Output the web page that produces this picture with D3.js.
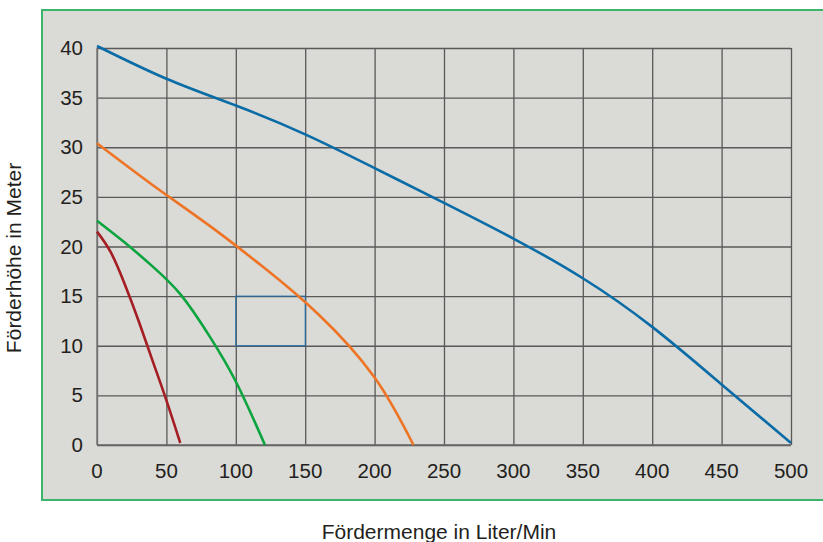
<!DOCTYPE html>
<html>
<head>
<meta charset="utf-8">
<script src="https://cdn.jsdelivr.net/npm/d3@7"></script>
<style>
  body { margin: 0; background: #fff; }
  svg { display: block; font-family: "Liberation Sans", Arial, sans-serif; }
</style>
</head>
<body>
<div id="chart"></div>
<script>
// pump curves: flow (l/min) vs head (m)
var xTicks = [0, 50, 100, 150, 200, 250, 300, 350, 400, 450, 500];
var yTicks = [0, 5, 10, 15, 20, 25, 30, 35, 40];

var blueFlow = [0, 50, 100, 150, 200, 250, 300, 350, 400, 450, 500];
var blueHead = [40.2, 36.9, 34.2, 31.3, 27.9, 24.4, 20.8, 16.8, 11.9, 6.1, 0.2];

var orangeFlow = [0, 40, 80, 120, 160, 200, 228];
var orangeHead = [30.4, 26.2, 22.2, 17.9, 13.1, 6.8, 0];

var greenFlow = [0, 20, 40, 60, 80, 100, 121];
var greenHead = [22.6, 20.4, 18.0, 15.2, 11.2, 6.4, 0];

var redFlow = [0, 10, 20, 30, 40, 50, 60];
var redHead = [21.5, 19.4, 16.2, 12.5, 8.5, 4.5, 0.2];

// highlighted box
var boxFlow = [100, 150];
var boxHead = [10, 15];

var svgWidth = 823;
var svgHeight = 542;

var margin = { top: 48, right: 32, bottom: 97, left: 97 };
var width = svgWidth - margin.left - margin.right;   // 694
var height = svgHeight - margin.top - margin.bottom; // 397

var svg = d3.select("#chart")
  .append("svg")
  .attr("width", svgWidth)
  .attr("height", svgHeight);

// grey panel with green border
svg.append("rect")
  .attr("x", 42)
  .attr("y", 10)
  .attr("width", 790)
  .attr("height", 490)
  .attr("fill", "#dadad6")
  .attr("stroke", "#3db36b")
  .attr("stroke-width", 2);

var chartGroup = svg.append("g")
  .attr("transform", `translate(${margin.left}, ${margin.top})`);

var x = d3.scaleLinear().domain([0, 500]).range([0, width]);
var y = d3.scaleLinear().domain([0, 40]).range([height, 0]);

// grid
chartGroup.append("g")
  .call(d3.axisBottom(x).tickValues(xTicks).tickSize(-height).tickFormat(""))
  .attr("transform", `translate(0, ${height})`)
  .call(g => g.select(".domain").remove())
  .selectAll("line")
  .attr("stroke", "#5a5858")
  .attr("stroke-width", 1.3);

chartGroup.append("g")
  .call(d3.axisLeft(y).tickValues(yTicks).tickSize(-width).tickFormat(""))
  .call(g => g.select(".domain").remove())
  .selectAll("line")
  .attr("stroke", "#5a5858")
  .attr("stroke-width", 1.3);

// left/bottom edges a bit lighter
chartGroup.append("line")
  .attr("x1", 0).attr("x2", 0).attr("y1", 0).attr("y2", height)
  .attr("stroke", "#7a7878").attr("stroke-width", 1.5);
chartGroup.append("line")
  .attr("x1", 0).attr("x2", width).attr("y1", height).attr("y2", height)
  .attr("stroke", "#6a6868").attr("stroke-width", 1.5);

// tick labels
chartGroup.selectAll(".xlab")
  .data(xTicks)
  .enter()
  .append("text")
  .attr("x", d => x(d))
  .attr("y", height + 33)
  .attr("text-anchor", "middle")
  .attr("font-size", "20.5px")
  .attr("fill", "#231f20")
  .text(d => d);

chartGroup.selectAll(".ylab")
  .data(yTicks)
  .enter()
  .append("text")
  .attr("x", -14)
  .attr("y", d => y(d) + 7)
  .attr("text-anchor", "end")
  .attr("font-size", "20.5px")
  .attr("fill", "#231f20")
  .text(d => d);

// blue box
chartGroup.append("rect")
  .attr("x", x(boxFlow[0]))
  .attr("y", y(boxHead[1]))
  .attr("width", x(boxFlow[1]) - x(boxFlow[0]))
  .attr("height", y(boxHead[0]) - y(boxHead[1]))
  .attr("fill", "none")
  .attr("stroke", "#1a70b0")
  .attr("stroke-width", 1);

// curves
var line = d3.line()
  .x(d => x(d[0]))
  .y(d => y(d[1]))
  .curve(d3.curveNatural);

var series = [
  { flow: redFlow, head: redHead, color: "#a41e24" },
  { flow: greenFlow, head: greenHead, color: "#0ba43e" },
  { flow: orangeFlow, head: orangeHead, color: "#ee7425" },
  { flow: blueFlow, head: blueHead, color: "#0a6ca6" }
];

series.forEach(function(s) {
  chartGroup.append("path")
    .datum(s.flow.map((f, i) => [f, s.head[i]]))
    .attr("d", line)
    .attr("fill", "none")
    .attr("stroke", s.color)
    .attr("stroke-width", 2.6);
});

// axis titles
svg.append("text")
  .attr("transform", "translate(21, 258) rotate(-90)")
  .attr("text-anchor", "middle")
  .attr("font-size", "21px")
  .attr("fill", "#231f20")
  .text("Förderhöhe in Meter");

svg.append("text")
  .attr("x", 439)
  .attr("y", 539)
  .attr("text-anchor", "middle")
  .attr("font-size", "21px")
  .attr("fill", "#231f20")
  .text("Fördermenge in Liter/Min");
</script>
</body>
</html>
